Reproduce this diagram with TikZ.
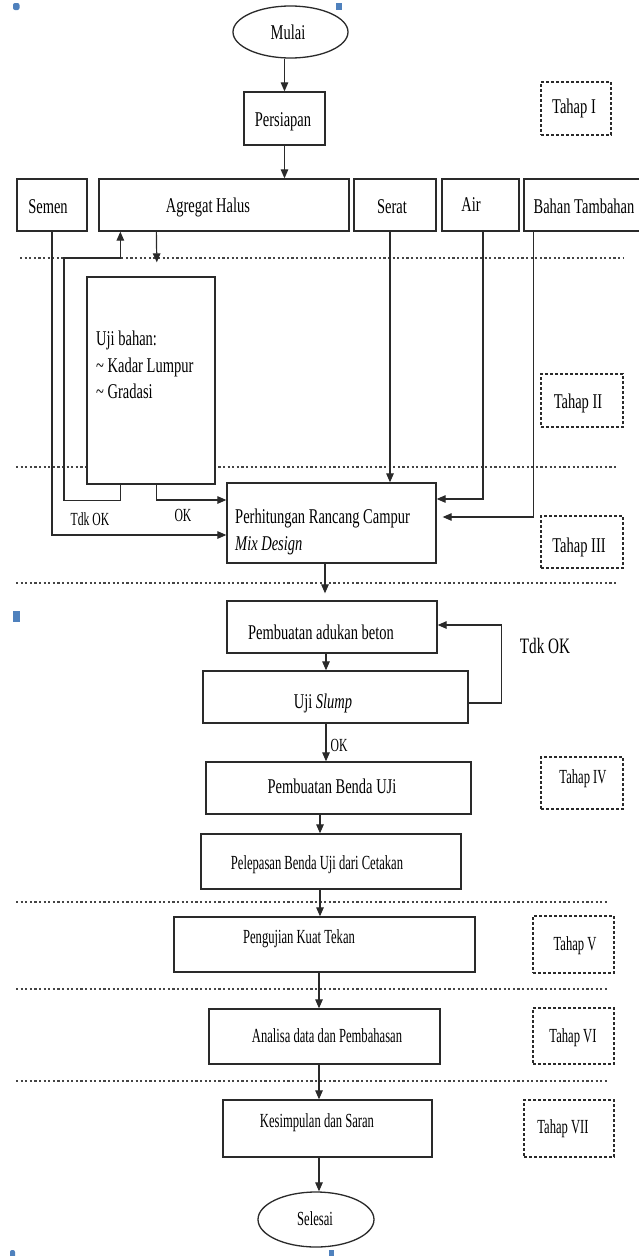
\documentclass[tikz,border=0pt]{standalone}
\usepackage{fontspec}
\setmainfont[FakeStretch=0.69]{Liberation Serif}
\newfontfamily\nfont[FakeStretch=0.63]{Liberation Serif}
\usetikzlibrary{arrows.meta,shapes.geometric,calc}
\definecolor{ink}{HTML}{2A2A2A}
\definecolor{sepcol}{HTML}{454545}
\definecolor{handle}{RGB}{79,129,189}
\begin{document}
\begin{tikzpicture}[x=1pt,y=-1pt,
  box/.style={draw=ink, fill=white, rectangle, inner sep=0pt, line width=1.3pt},
  oval/.style={draw=ink, fill=white, ellipse, inner sep=0pt, line width=1.3pt},
  tahapbox/.style={draw=ink, fill=white, rectangle, inner sep=0pt, line width=1.3pt, dash pattern=on 3pt off 2pt},
  txt/.style={font=\fontsize{21}{25}\selectfont, inner sep=0pt, anchor=base, text=black},
  ntxt/.style={font=\nfont\fontsize{20}{24}\selectfont, inner sep=0pt, anchor=base, text=black},
  lbl/.style={font=\nfont\fontsize{18.5}{22}\selectfont, inner sep=0pt, anchor=base, text=black},
  sepline/.style={draw=sepcol, line width=1.8pt, dash pattern=on 2.2pt off 2.4pt},
  arr/.style={draw=ink, line width=1.2pt, -{Triangle[length=9pt,width=7.5pt]}},
  hnd/.style={fill=handle, draw=none}
]
\useasboundingbox (0,0) rectangle (638,1256);
\fill[white] (0,0) rectangle (638,1256);

% separator lines
\draw[sepline] (20,258) -- (623,258);
\draw[sepline] (16,467) -- (616,467);
\draw[sepline] (16,583) -- (616,583);
\draw[sepline] (16,902) -- (608,902);
\draw[sepline] (16,989) -- (608,989);
\draw[sepline] (16,1081) -- (608,1081);

% boxes
\node[oval, minimum width=115pt, minimum height=52pt] (mulai) at (290.5,32) {};
\node[box, minimum width=81pt, minimum height=53pt] (persiapan) at (284.5,118.5) {};
\node[tahapbox, minimum width=70pt, minimum height=53pt] (tahapI) at (576,108.5) {};
\node[box, minimum width=70pt, minimum height=52pt] (semen) at (52,205) {};
\node[box, minimum width=250pt, minimum height=52pt] (agregat) at (224,205) {};
\node[box, minimum width=82pt, minimum height=52pt] (serat) at (395,205) {};
\node[box, minimum width=77pt, minimum height=52pt] (air) at (480.5,205) {};
\node[box, minimum width=118pt, minimum height=52pt] (bahan) at (583,205) {};
\node[box, minimum width=128pt, minimum height=207pt] (uji) at (151,380.5) {};
\node[tahapbox, minimum width=82pt, minimum height=53pt] (tahapII) at (582,400.5) {};
\node[box, minimum width=209pt, minimum height=80pt] (mix) at (331.5,523) {};
\node[tahapbox, minimum width=82pt, minimum height=52pt] (tahapIII) at (582,542) {};
\node[box, minimum width=210pt, minimum height=52pt] (adukan) at (332,627) {};
\node[box, minimum width=265pt, minimum height=52pt] (slump) at (335.5,697) {};
\node[box, minimum width=265pt, minimum height=52pt] (benda) at (338.5,788) {};
\node[tahapbox, minimum width=82pt, minimum height=52pt] (tahapIV) at (582,783) {};
\node[box, minimum width=260pt, minimum height=55pt] (pelepasan) at (331,861.5) {};
\node[box, minimum width=301pt, minimum height=55pt] (pengujian) at (324.5,944.5) {};
\node[tahapbox, minimum width=81pt, minimum height=57pt] (tahapV) at (573.5,944.5) {};
\node[box, minimum width=231pt, minimum height=55pt] (analisa) at (324.5,1036.5) {};
\node[tahapbox, minimum width=81pt, minimum height=56pt] (tahapVI) at (573.5,1036) {};
\node[box, minimum width=209pt, minimum height=57pt] (kesimpulan) at (327.5,1128.5) {};
\node[tahapbox, minimum width=90pt, minimum height=57pt] (tahapVII) at (569,1128.5) {};
\node[oval, minimum width=116pt, minimum height=55pt] (selesai) at (316,1219.5) {};

% texts
\node[txt] (tMulai) at (288,39) {Mulai};
\node[txt] (tPersiapan) at (283,126) {Persiapan};
\node[txt] (tTahapI) at (574,113) {Tahap I};
\node[txt] (tSemen) at (48,213) {Semen};
\node[txt] (tAgregat) at (208,212) {Agregat Halus};
\node[txt] (tSerat) at (392,213) {Serat};
\node[txt] (tAir) at (471,211) {Air};
\node[txt] (tBahan) at (584,213) {Bahan Tambahan};
\node[txt, anchor=base west] (tUji1) at (96,345) {Uji bahan:};
\node[txt, anchor=base west] (tUji2) at (96,372) {\textasciitilde\ Kadar Lumpur};
\node[txt, anchor=base west] (tUji3) at (96,398) {\textasciitilde\ Gradasi};
\node[txt] (tTahapII) at (578,408) {Tahap II};
\node[txt, anchor=base west] (tMix1) at (235,523) {Perhitungan Rancang Campur};
\node[txt, anchor=base west] (tMix2) at (235,550) {\textit{Mix Design}};
\node[txt] (tTahapIII) at (579,552) {Tahap III};
\node[txt] (tAdukan) at (321,639) {Pembuatan adukan beton};
\node[txt] (tSlump) at (323,708) {Uji \textit{Slump}};
\node[txt] (tBenda) at (332,793) {Pembuatan Benda UJi};
\node[ntxt] (tTahapIV) at (583,783) {Tahap IV};
\node[ntxt] (tPelepasan) at (317,869) {Pelepasan Benda Uji dari Cetakan};
\node[ntxt] (tPengujian) at (299,943) {Pengujian Kuat Tekan};
\node[ntxt] (tTahapV) at (575,950) {Tahap V};
\node[ntxt] (tAnalisa) at (327,1042) {Analisa data dan Pembahasan};
\node[ntxt] (tTahapVI) at (573,1042) {Tahap VI};
\node[ntxt] (tKesimpulan) at (317,1127) {Kesimpulan dan Saran};
\node[ntxt] (tTahapVII) at (563,1133) {Tahap VII};
\node[ntxt] (tSelesai) at (315,1225) {Selesai};

% labels
\node[lbl] (lTdk1) at (90,525) {Tdk OK};
\node[lbl] (lOK1) at (183,521) {OK};
\node[txt, font=\fontsize{22}{26}\selectfont] (lTdk2) at (545,653) {Tdk OK};
\node[lbl] (lOK2) at (339,751) {OK};

% helper coordinates
\coordinate (s1) at ($(serat.south)+(-5,0)$);
\coordinate (loopc) at (64,258);
\coordinate (m1) at ($(mix.south)+(-6.5,0)$);
\coordinate (a1) at ($(adukan.south)+(-6,0)$);
\coordinate (sl1) at ($(slump.south)+(-9.5,0)$);
\coordinate (b1) at ($(benda.south)+(-18.5,0)$);
\coordinate (p1) at ($(pelepasan.south)+(-11,0)$);
\coordinate (pg1) at ($(pengujian.south)+(-5.5,0)$);
\coordinate (an1) at ($(analisa.south)+(-5.5,0)$);
\coordinate (k1) at ($(kesimpulan.south)+(-8.5,0)$);

% connectors
\draw[arr] (mulai.south -| persiapan.north) -- (persiapan.north);
\draw[arr] (persiapan.south) -- (persiapan.south |- agregat.north);
\draw[arr] (semen.south) |- ($(mix.west)+(0,12)$);
\draw[arr] (s1) -- (s1 |- mix.north);
\draw[arr] ($(air.south)+(2.5,0)$) |- ($(mix.east)+(0,-24)$);
\draw[arr, shorten >=6pt] ($(bahan.south west)+(10,0)$) |- ($(mix.east)+(0,-6)$);
\draw[arr, shorten >=14pt] ($(agregat.south west)+(58,0)$) -- ($(uji.north)+(6,0)$);
\draw[arr] ($(uji.south west)+(34,0)$) -- ++(0,16) -| (loopc) -| ($(agregat.south west)+(22,0)$);
\draw[arr] ($(uji.south west)+(70,0)$) |- ($(mix.west)+(0,-23)$);
\draw[arr, shorten >=7pt] (m1) -- (m1 |- adukan.north);
\draw[arr] (a1) -- (a1 |- slump.north);
\draw[arr] ($(slump.east)+(0,6)$) -- ++(33,0) |- ($(adukan.east)+(0,-2)$);
\draw[arr] (sl1) -- (sl1 |- benda.north);
\draw[arr] (b1) -- (b1 |- pelepasan.north);
\draw[arr] (p1) -- (p1 |- pengujian.north);
\draw[arr] (pg1) -- (pg1 |- analisa.north);
\draw[arr] (an1) -- (an1 |- kesimpulan.north);
\draw[arr] (k1) -- (k1 |- selesai.north);

% selection handles
\fill[hnd, rounded corners=2pt] (13,3) rectangle (19.5,10);
\fill[hnd] (336,3) rectangle (342,10);
\fill[hnd] (13,611) rectangle (20,622);
\fill[hnd, rounded corners=2pt] (10,1250) rectangle (15,1258);
\fill[hnd] (329,1250) rectangle (334,1258);
\end{tikzpicture}
\end{document}
